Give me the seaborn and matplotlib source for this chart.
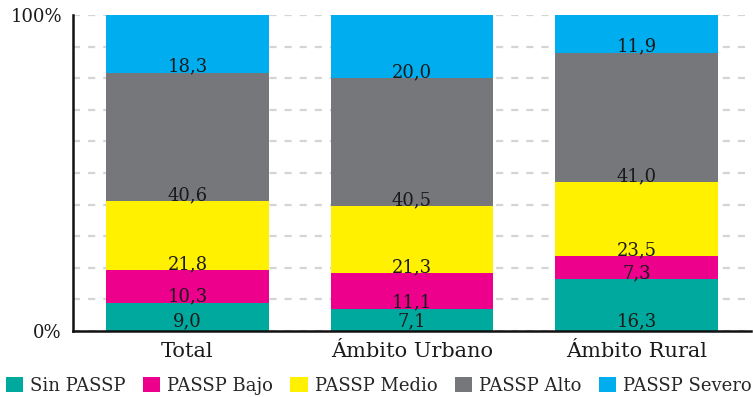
import matplotlib
matplotlib.use("Agg")
import matplotlib.pyplot as plt
import seaborn as sns
import pandas as pd
import numpy as np

# Categories and stacked shares (percent)
categories = ["Total", "Ámbito Urbano", "Ámbito Rural"]
levels = ["Sin PASSP", "PASSP Bajo", "PASSP Medio", "PASSP Alto", "PASSP Severo"]
sin_passp = [9.0, 7.1, 16.3]
passp_bajo = [10.3, 11.1, 7.3]
passp_medio = [21.8, 21.3, 23.5]
passp_alto = [40.6, 40.5, 41.0]
passp_severo = [18.3, 20.0, 11.9]
y_tick_labels = ["0%", "100%"]

colors = ["#00A99D", "#EC008C", "#FFF100", "#76777B", "#00AEEF"]

series = [sin_passp, passp_bajo, passp_medio, passp_alto, passp_severo]
df = pd.DataFrame(
    [(cat, lvl, v) for lvl, vals in zip(levels, series) for cat, v in zip(categories, vals)],
    columns=["ambito", "nivel", "pct"],
)

sns.set_theme(style="white")
plt.rcParams["font.family"] = ["DejaVu Serif"]

fig = plt.figure(figsize=(7.53, 3.97), dpi=100)
ax = fig.add_axes([73 / 753, 66 / 397, 678 / 753, 316 / 397])

bottoms = np.zeros(len(categories))
for lvl, col in zip(levels, colors):
    sub = df[df["nivel"] == lvl].set_index("ambito").loc[categories].reset_index()
    sns.barplot(
        data=sub, x="ambito", y="pct", order=categories, color=col,
        saturation=1, width=0.724, errorbar=None, bottom=bottoms.copy(),
        linewidth=0, edgecolor="none", ax=ax, zorder=2, label=lvl,
    )
    bottoms += sub["pct"].to_numpy()

# Value labels sitting at the base of each segment
for container, lvl in zip(ax.containers, levels):
    sub = df[df["nivel"] == lvl].set_index("ambito").loc[categories]
    for patch, val in zip(container.patches, sub["pct"]):
        base = patch.get_y()
        off = 3 if base == 0 else 0.7
        ax.annotate(
            f"{val:.1f}".replace(".", ","),
            (patch.get_x() + patch.get_width() / 2, base),
            xytext=(0, off), textcoords="offset points",
            ha="center", va="baseline", fontsize=13, color="#1a1a1a", zorder=3,
        )

ax.set_xlim(-0.51, 2.51)
ax.set_ylim(0, 100)
ax.set_yticks(np.arange(0, 101, 10))
ax.set_yticklabels([y_tick_labels[0]] + [""] * 9 + [y_tick_labels[1]])
ax.tick_params(axis="both", length=0, colors="#1a1a1a")
ax.tick_params(axis="y", pad=8, labelsize=13)
ax.tick_params(axis="x", pad=8, labelsize=15)
ax.set_xlabel("")
ax.set_ylabel("")

ax.yaxis.grid(True, color="#d4d4d4", linewidth=1.6, linestyle=(0, (3.2, 3.6)), zorder=0)
ax.set_axisbelow(True)

for side in ["top", "right"]:
    ax.spines[side].set_visible(False)
for side in ["left", "bottom"]:
    ax.spines[side].set_color("#111111")
    ax.spines[side].set_linewidth(1.8)

handles, labels = ax.get_legend_handles_labels()
if ax.get_legend() is not None:
    ax.get_legend().remove()
fig.legend(
    handles, labels, loc="center", bbox_to_anchor=(0.503, 0.028), ncol=5,
    frameon=False, fontsize=13, handlelength=0.95, handleheight=0.95,
    handletextpad=0.4, columnspacing=0.95, borderaxespad=0, borderpad=0,
)

fig.savefig("out.png", dpi=100)
